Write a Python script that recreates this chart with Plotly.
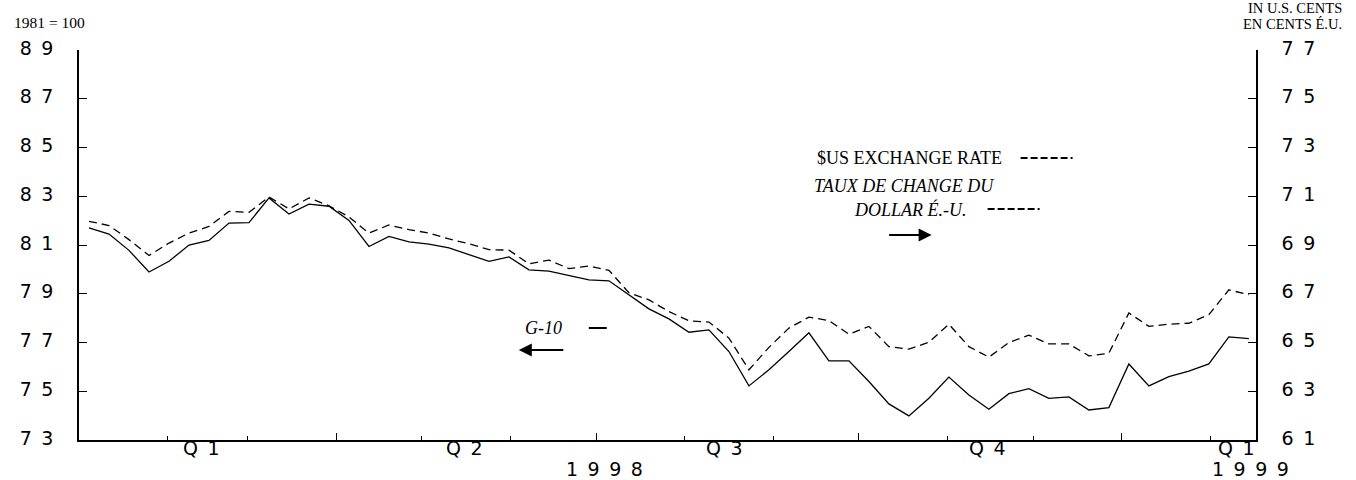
import pandas as pd
import plotly.graph_objects as go

# ---------------- data ----------------
weeks = pd.date_range("1998-01-04 12:00", periods=59, freq="7D")

g10_index = [81.70, 81.45, 80.78, 79.89, 80.33, 81.00, 81.19, 81.90, 81.92, 82.93,
             82.27, 82.68, 82.59, 82.01, 80.94, 81.35, 81.13, 81.04, 80.88, 80.60,
             80.33, 80.51, 79.98, 79.93, 79.75, 79.57, 79.53, 78.96, 78.38, 77.97,
             77.42, 77.52, 76.63, 75.22, 75.88, 76.63, 77.40, 76.25, 76.25, 75.40,
             74.48, 73.99, 74.71, 75.58, 74.85, 74.26, 74.90, 75.11, 74.71, 74.77,
             74.23, 74.33, 76.12, 75.22, 75.60, 75.83, 76.12, 77.23, 77.16]

usd_cents = [69.97, 69.80, 69.22, 68.57, 69.08, 69.49, 69.76, 70.38, 70.34, 70.97,
             70.48, 70.93, 70.61, 70.15, 69.49, 69.82, 69.63, 69.49, 69.25, 69.05,
             68.81, 68.79, 68.23, 68.38, 68.03, 68.14, 67.96, 67.04, 66.75, 66.27,
             65.89, 65.84, 65.18, 63.88, 64.80, 65.59, 66.04, 65.90, 65.34, 65.66,
             64.83, 64.73, 65.01, 65.75, 64.83, 64.40, 65.00, 65.30, 64.94, 64.94,
             64.45, 64.56, 66.21, 65.66, 65.75, 65.79, 66.14, 67.16, 66.96]

left_ticks = [73, 75, 77, 79, 81, 83, 85, 87, 89]
right_ticks = [61, 63, 65, 67, 69, 71, 73, 75, 77]
quarter_ticks = ["1998-01-01", "1998-04-01", "1998-07-01", "1998-10-01", "1999-01-01"]
quarter_labels = ["Q1", "Q2", "Q3", "Q4", "Q1"]
quarter_label_dates = ["1998-02-13", "1998-05-16", "1998-08-15", "1998-11-15", "1999-02-10"]
year_labels = ["1998", "1999"]
year_label_dates = ["1998-07-04", "1999-02-15"]
x_range = ["1998-01-01", "1999-02-17"]

# ---------------- layout helpers ----------------
W, H = 1356, 480
ML, MR, MT, MB = 79, 99.5, 50, 40
PW, PH = W - ML - MR, H - MT - MB


def px(xp):
    return (xp - ML) / PW


def py(yp):
    return (H - MB - yp) / PH


SP = "\u2002"


def spaced(s):
    return SP.join(list(s))


TICKFONT = dict(family="DejaVu Sans", size=19, color="black")
SERIF = "Liberation Serif"

fig = go.Figure()
fig.add_trace(go.Scatter(x=weeks, y=g10_index, mode="lines", name="G-10",
                         line=dict(color="black", width=1.3), yaxis="y"))
fig.add_trace(go.Scatter(x=weeks, y=usd_cents, mode="lines", name="$US",
                         line=dict(color="black", width=1.3, dash="8px,5px"), yaxis="y2"))

axis_common = dict(showline=True, linecolor="black", linewidth=1.5, showgrid=False,
                   zeroline=False, ticks="inside", ticklen=8, tickcolor="black",
                   tickwidth=1, tickfont=TICKFONT, tickmode="array",
                   ticklabelstandoff=20, ticklabelshift=-2)

fig.update_layout(
    width=W, height=H,
    margin=dict(l=ML, r=MR, t=MT, b=MB),
    paper_bgcolor="white", plot_bgcolor="white",
    showlegend=False,
    xaxis=dict(type="date", range=x_range, showline=True, linecolor="black", linewidth=1.5,
               showgrid=False, zeroline=False, ticks="inside", ticklen=7, tickwidth=1,
               tickcolor="black", tickmode="array", tickvals=quarter_ticks,
               showticklabels=False,
               minor=dict(ticks="inside", ticklen=4, tickwidth=1, tickcolor="black",
                          dtick="M1", tick0="1998-01-01", showgrid=False)),
    yaxis=dict(range=[left_ticks[0], left_ticks[-1]], side="left",
               tickvals=left_ticks, ticktext=[spaced(str(v)) for v in left_ticks],
               **axis_common),
    yaxis2=dict(range=[right_ticks[0], right_ticks[-1]], side="right", overlaying="y",
                tickvals=right_ticks, ticktext=[spaced(str(v)) for v in right_ticks],
                **axis_common),
)

ann = []
# quarter / year labels
for lab, d in zip(quarter_labels, quarter_label_dates):
    ann.append(dict(x=d, y=py(448), xref="x", yref="paper", text=spaced(lab),
                    showarrow=False, font=TICKFONT, xanchor="center", yanchor="middle"))
for lab, d in zip(year_labels, year_label_dates):
    ann.append(dict(x=d, y=py(469), xref="x", yref="paper", text=spaced(lab),
                    showarrow=False, font=TICKFONT, xanchor="center", yanchor="middle"))

# unit labels
UF = dict(family=SERIF, size=15.5, color="black")
UF2 = dict(family=SERIF, size=14.5, color="black")
ann.append(dict(x=px(12), y=py(22), xref="paper", yref="paper", text="1981 = 100",
                showarrow=False, xanchor="left", yanchor="middle", font=UF))
ann.append(dict(x=px(1345), y=py(8), xref="paper", yref="paper", text="IN U.S. CENTS",
                showarrow=False, xanchor="right", yanchor="middle", font=UF2))
ann.append(dict(x=px(1345), y=py(24), xref="paper", yref="paper", text="EN CENTS É.U.",
                showarrow=False, xanchor="right", yanchor="middle", font=UF2))

# legend texts
LF = dict(family=SERIF, size=18, color="black")
ann.append(dict(x=px(815), y=py(158), xref="paper", yref="paper", text="$US EXCHANGE RATE",
                showarrow=False, xanchor="left", yanchor="middle", font=LF))
ann.append(dict(x=px(812), y=py(186), xref="paper", yref="paper",
                text="<i>TAUX DE CHANGE DU</i>",
                showarrow=False, xanchor="left", yanchor="middle", font=LF))
ann.append(dict(x=px(852), y=py(209), xref="paper", yref="paper", text="<i>DOLLAR É.-U.</i>",
                showarrow=False, xanchor="left", yanchor="middle", font=LF))
ann.append(dict(x=px(523), y=py(328), xref="paper", yref="paper", text="<i>G-10</i>",
                showarrow=False, xanchor="left", yanchor="middle", font=LF))
# arrows
ann.append(dict(x=px(932), y=py(235), xref="paper", yref="paper", ax=-44, ay=0,
                text="", showarrow=True, arrowhead=2, arrowsize=1.3, arrowwidth=2,
                arrowcolor="black"))
ann.append(dict(x=px(519), y=py(350), xref="paper", yref="paper", ax=46, ay=0,
                text="", showarrow=True, arrowhead=2, arrowsize=1.3, arrowwidth=2,
                arrowcolor="black"))
fig.update_layout(annotations=ann)

# legend line samples
shapes = [
    dict(type="line", xref="paper", yref="paper", x0=px(1021), x1=px(1073), y0=py(158), y1=py(158),
         line=dict(color="black", width=2, dash="7px,3px")),
    dict(type="line", xref="paper", yref="paper", x0=px(988), x1=px(1040), y0=py(209), y1=py(209),
         line=dict(color="black", width=2, dash="7px,3px")),
    dict(type="line", xref="paper", yref="paper", x0=px(589), x1=px(607), y0=py(328), y1=py(328),
         line=dict(color="black", width=2)),
]
fig.update_layout(shapes=shapes)

fig.write_html("out.html", config={"displayModeBar": False},
               post_script="document.body.style.margin='0px';")
